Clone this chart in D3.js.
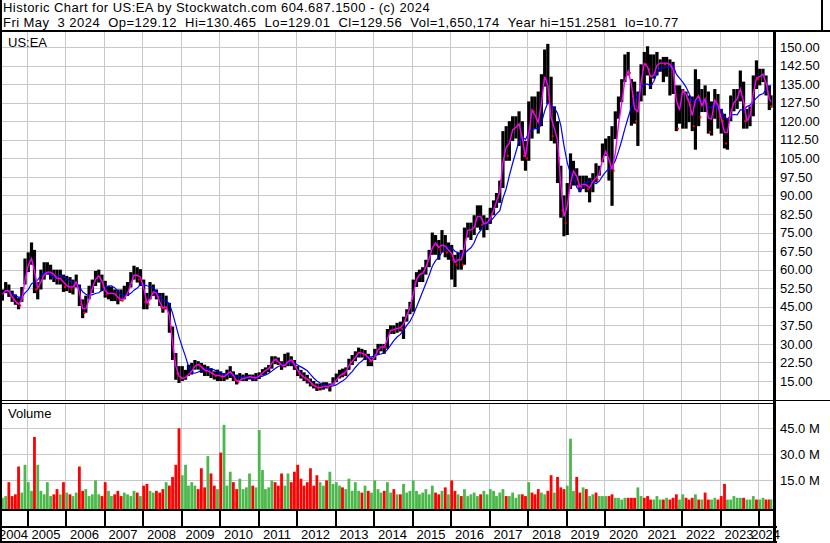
<!DOCTYPE html>
<html>
<head>
<meta charset="utf-8">
<script src="https://cdn.jsdelivr.net/npm/d3@7"></script>
<style>
body { margin: 0; background: #fff; }
text { font-family: "Liberation Sans", Arial, sans-serif; fill: #000; }
</style>
</head>
<body>
<div id="chart"></div>
<script>
// monthly bars, May 2004 .. May 2024 (one value per month)
var high = [
  52, 55, 54, 51.5, 50, 48.5, 53, 64.5,
  67, 71, 68, 55, 60, 63, 63, 62, 60, 60, 60, 58,
  57.5, 57, 56, 58, 54, 48, 49.5, 53.5, 56, 59.5, 60, 58,
  55.5, 53.5, 53, 52, 52, 52, 53.5, 55, 59, 61.6, 61, 60.2,
  56, 50.6, 55, 54, 52, 50.6, 50.6, 49.5, 46.6, 37, 26.3, 21,
  21, 19.5, 21.6, 22.3, 23.5, 23, 22.3, 21.6, 21, 20.2, 18.9, 19.6,
  18.9, 18.2, 19.6, 21, 18.9, 17.6, 18.2, 17.6, 18.2, 17.6, 17.6, 18.2,
  18.5, 19.8, 20.5, 21.5, 25, 25, 24.5, 23, 26, 26.5, 25, 23.5,
  21, 19.5, 18.5, 17.5, 16, 15, 14, 14, 14.5, 14.5, 14, 16.5,
  18, 19.5, 20, 20.5, 24, 25.5, 27, 28.5, 28, 27.5, 26, 24.5,
  28, 30, 30, 30, 36, 37.5, 37.5, 38.5, 39, 41, 44, 47,
  56, 59, 60, 61, 64, 68, 75, 74, 72, 76, 74, 71,
  70, 66, 67, 68, 77, 79, 79, 82, 86, 86, 82, 81,
  85, 88, 91, 96, 116, 118, 120, 122, 122, 124, 120, 112,
  128, 130, 130, 132, 139, 149, 151.26, 138, 126, 120, 102, 90,
  95, 107, 104, 101, 98, 98, 98, 97, 99, 103, 102, 111,
  113, 114, 118, 124, 130, 137, 147, 148, 137, 136, 132, 143,
  148, 150.3, 147, 147, 148, 145, 146, 146, 145, 144, 134.5, 134.5,
  133, 132, 130.4, 130, 141, 137, 133, 134.5, 132, 128, 133, 131,
  125, 123, 121, 130.4, 133, 133, 140.5, 136, 125, 126, 138.5, 144.6,
  141.2, 141.2, 138.5, 134.5, 130.47
];
var low = [
  47.5, 50.5, 49, 47, 45.8, 44, 47, 54,
  59, 62, 50.5, 48, 52, 56, 58, 56, 55, 54, 54, 51,
  51.3, 50.6, 50, 52.8, 45.3, 40.4, 42.6, 48, 50.6, 53.4, 54.8, 51.3,
  48.7, 48, 47.3, 47.3, 46, 47.3, 48, 49.4, 52.8, 56, 54.8, 53.4,
  44, 44, 48, 49.4, 48, 45.3, 42.6, 44, 34.5, 23.5, 15.5, 14.2,
  15, 15.5, 17, 17.6, 19.6, 19.6, 18.3, 17, 17, 16.2, 15.6, 15,
  15, 15, 15.6, 16.2, 15, 13.6, 15, 15, 15, 15.6, 15, 15,
  15.8, 17.2, 17.5, 18.5, 20, 21.8, 21.5, 19.5, 20.5, 21, 21, 19.5,
  17, 16, 15, 14, 12.8, 12, 11, 11.2, 11.5, 12, 10.77, 13.5,
  14.5, 16, 16.5, 17, 19.5, 21.5, 23, 24.5, 24.5, 23.5, 21, 21,
  23.5, 25.5, 27, 26, 28, 34, 34, 34.5, 35, 32, 39, 42,
  43, 53, 55, 55, 58, 61, 66, 66, 64, 67, 65, 64,
  56, 53, 60, 60, 62, 73, 72, 74, 77, 76, 73, 76,
  78.5, 82, 85, 87, 93, 104, 104, 112, 113, 110, 104, 100,
  104, 113, 117, 115, 118, 134, 127, 112, 111, 95, 81, 73.5,
  74, 92.6, 94, 94, 91.3, 92.6, 91.3, 87.2, 91.3, 95.3, 98, 103.4,
  106, 96, 85.8, 112.8, 121, 127.7, 135.8, 138.5, 118.2, 119, 110, 128,
  130.4, 138.5, 133, 137.2, 138.5, 140, 135.8, 138, 130.4, 131, 116, 119,
  117, 117, 119.6, 116, 108.5, 118, 123.7, 123.7, 115, 114.2, 121, 117,
  115, 109, 108.5, 120, 124, 125, 128, 117, 117, 118, 122, 133,
  134.5, 135.8, 130.4, 124.5, 125.5
];
var close = [
  50, 53, 50, 48, 46.5, 45.5, 50, 61.5,
  62, 67, 52, 53, 57, 59, 59, 59, 57, 56, 57, 53,
  54, 52, 54, 56, 46, 42.5, 46, 50, 55, 57, 58, 53,
  50, 50.5, 50.5, 50, 48, 47.5, 49, 52, 56, 59.5, 56, 58,
  47, 46, 50, 52, 49, 45, 44, 46, 37, 24, 18, 16,
  16, 17, 18, 20, 22, 21.5, 20, 19, 19, 18, 17, 17.5,
  16.5, 17, 18.5, 19, 15.5, 14.5, 16, 16, 16.5, 17, 16, 16.5,
  17.5, 19, 19.5, 20.5, 24, 23.6, 22, 21, 21.5, 24, 23, 20.5,
  18, 17, 16, 15.5, 13.5, 13, 12, 12.5, 13, 12.5, 13.5, 14.5,
  16, 18, 17.7, 19.5, 23, 23, 26, 27, 25.5, 26, 23, 23,
  26.5, 28.5, 29, 28.5, 35, 36, 35.5, 37, 36, 40, 43, 46,
  54, 58, 58, 59, 63, 66, 71.5, 70, 68, 72, 67, 69,
  64, 62, 66, 62, 76, 76, 76, 78, 85, 78, 79, 79,
  82, 86, 89, 94, 113, 106, 116, 117, 118, 120, 106, 105,
  125, 124, 121, 118, 136, 140, 129, 114, 120, 105, 84, 79,
  92, 98, 101.6, 94, 93, 96, 92.5, 93.6, 97.8, 96.4, 101, 107.5,
  108, 101, 100, 114, 123, 132, 141, 139.5, 130, 120, 127.7, 143.6,
  143, 141, 135, 142, 143, 144, 143, 144, 142, 140, 117, 132,
  132.7, 129, 126.5, 118, 139, 121.6, 131, 127, 115.7, 126, 131, 122,
  120, 111, 120, 127, 128, 130, 136, 120, 120.5, 124, 138, 137,
  139, 139, 132, 126, 129.56
];
// volume, millions of shares
var volume = [
  5, 6, 14, 6, 7, 23, 8, 24,
  14, 9, 40, 24, 9, 7, 14, 6, 7, 10, 7, 14,
  8, 7, 6, 8, 23, 9, 10, 6, 7, 15, 7, 6,
  14, 9, 6, 7, 9, 6, 8, 7, 6, 9, 8, 6,
  12, 13, 9, 8, 9, 8, 10, 14, 12, 17, 24, 45,
  18, 24, 12, 14, 12, 10, 22, 11, 29, 19, 12, 10,
  31, 47, 12, 20, 14, 10, 16, 10, 11, 19, 12, 11,
  44, 21, 10, 11, 15, 14, 12, 19, 12, 19, 14, 20,
  24, 16, 12, 14, 22, 12, 18, 14, 12, 15, 20, 13,
  14, 12, 11, 10, 16, 9, 14, 9, 8, 12, 9, 8,
  15, 10, 8, 9, 14, 8, 10, 7, 7, 13, 8, 9,
  15, 9, 7, 8, 10, 7, 12, 8, 7, 9, 11, 7,
  15, 9, 7, 6, 10, 6, 7, 8, 6, 7, 9, 7,
  10, 9, 6, 8, 10, 6, 6, 8, 5, 7, 7, 6,
  14, 8, 7, 10, 8, 7, 9, 18, 8, 17, 11, 10,
  12, 39, 9, 17, 8, 11, 10, 6, 7, 8, 6, 6,
  6, 6, 7, 5, 5, 4, 5, 5, 5, 5, 11, 6,
  5, 6, 4, 4, 6, 4, 4, 5, 4, 5, 7, 4,
  7, 5, 4, 5, 7, 4, 4, 8, 4, 4, 5, 4,
  6, 13, 4, 4, 6, 5, 5, 5, 4, 4, 6, 4,
  4, 5, 4, 4, 4
];
var priceTicks = [15, 22.5, 30, 37.5, 45, 52.5, 60, 67.5, 75, 82.5, 90, 97.5, 105, 112.5, 120, 127.5, 135, 142.5, 150];
var volumeTicks = [15, 30, 45];
var years = [2004, 2005, 2006, 2007, 2008, 2009, 2010, 2011, 2012, 2013, 2014, 2015, 2016, 2017, 2018, 2019, 2020, 2021, 2022, 2023, 2024];

var title1 = "Historic Chart for US:EA by Stockwatch.com 604.687.1500 - (c) 2024";
var title2 = "Fri May  3 2024  Op=129.12  Hi=130.465  Lo=129.01  Cl=129.56  Vol=1,650,174  Year hi=151.2581  lo=10.77";

var W = 830, H = 543;
var plotR = 773;
var priceTop = 31, priceBot = 400;
var volTop = 403, volBot = 509;

// month dates (mid month, last bar only has 3 days)
var dates = close.map(function(d, i) {
  return new Date(2004, 4 + i, i == close.length - 1 ? 1 : 15);
});

var x = d3.scaleTime()
  .domain([new Date(2004, 3, 22), new Date(2024, 4, 20)])
  .range([0, plotR]);
var y = d3.scaleLinear().domain([15, 150]).range([381, 47]);
var yv = d3.scaleLinear().domain([0, 45]).range([506.5, 428.3]);

function movingAvg(arr, n) {
  return arr.map(function(v, i) {
    return d3.mean(arr.slice(Math.max(0, i - n + 1), i + 1));
  });
}
var maShort = movingAvg(close, 2);
var maLong = movingAvg(close, 7);

var svg = d3.select("#chart").append("svg")
  .attr("width", W)
  .attr("height", H);

svg.append("rect").attr("width", W).attr("height", H).attr("fill", "#fff");

svg.append("defs").append("clipPath").attr("id", "clipPrice")
  .append("rect").attr("x", 0).attr("y", priceTop + 1).attr("width", plotR).attr("height", priceBot - priceTop - 1);

// header
svg.append("text").attr("x", 3).attr("y", 12.3).attr("font-size", 13)
  .attr("letter-spacing", 0.45).text(title1);
svg.append("text").attr("x", 3).attr("y", 26.8).attr("font-size", 13)
  .attr("letter-spacing", 0.45).text(title2.replace(/ /g, "\u00a0"));

// grid
var grid = svg.append("g").attr("stroke", "#c8c8c8").attr("stroke-width", 1).attr("shape-rendering", "crispEdges");
grid.selectAll(".hp").data(priceTicks).enter().append("line")
  .attr("x1", 0).attr("x2", plotR)
  .attr("y1", function(d) { return Math.round(y(d)) + 0.5; })
  .attr("y2", function(d) { return Math.round(y(d)) + 0.5; });
grid.selectAll(".hv").data(volumeTicks).enter().append("line")
  .attr("x1", 0).attr("x2", plotR)
  .attr("y1", function(d) { return Math.round(yv(d)) + 0.5; })
  .attr("y2", function(d) { return Math.round(yv(d)) + 0.5; });
var yearLines = years.slice(1);
grid.selectAll(".vp").data(yearLines).enter().append("line")
  .attr("x1", function(d) { return Math.round(x(new Date(d, 0, 1))) + 0.5; })
  .attr("x2", function(d) { return Math.round(x(new Date(d, 0, 1))) + 0.5; })
  .attr("y1", priceTop).attr("y2", priceBot);
grid.selectAll(".vv").data(yearLines).enter().append("line")
  .attr("x1", function(d) { return Math.round(x(new Date(d, 0, 1))) + 0.5; })
  .attr("x2", function(d) { return Math.round(x(new Date(d, 0, 1))) + 0.5; })
  .attr("y1", volTop).attr("y2", volBot);

// price bars
var price = svg.append("g").attr("clip-path", "url(#clipPrice)");
price.selectAll("rect.bar").data(close).enter().append("rect")
  .attr("class", "bar")
  .attr("x", function(d, i) { return x(dates[i]) - 1.6; })
  .attr("width", 3.2)
  .attr("y", function(d, i) { return y(high[i]); })
  .attr("height", function(d, i) { return y(low[i]) - y(high[i]); })
  .attr("fill", "#000");

// red close marks on down months
var downIdx = d3.range(1, close.length).filter(function(i) { return close[i] < close[i - 1]; });
price.selectAll("rect.cl").data(downIdx).enter().append("rect")
  .attr("class", "cl")
  .attr("x", function(i) { return x(dates[i]) + 0.6; })
  .attr("width", 2)
  .attr("y", function(i) { return y(close[i]) - 1; })
  .attr("height", 2)
  .attr("fill", "#ff0000");

var line = d3.line()
  .x(function(d, i) { return x(dates[i]); })
  .y(function(d) { return y(d); });
price.append("path").datum(maLong)
  .attr("d", line).attr("fill", "none").attr("stroke", "#0000ff").attr("stroke-width", 1.2);
price.append("path").datum(maShort)
  .attr("d", line).attr("fill", "none").attr("stroke", "#ff00ff").attr("stroke-width", 1.4);

// volume bars
svg.append("g").selectAll("rect").data(volume).enter().append("rect")
  .attr("x", function(d, i) { return x(dates[i]) - 1.4; })
  .attr("width", 2.8)
  .attr("y", function(d) { return yv(d); })
  .attr("height", function(d) { return volBot - yv(d); })
  .attr("fill", function(d, i) {
    if (i > 0 && close[i] < close[i - 1]) return "#ff0000";
    return "#4cb84c";
  });

// labels
svg.append("text").attr("x", 8).attr("y", 46.5).attr("font-size", 13).text("US:EA");
svg.append("text").attr("x", 8).attr("y", 417.5).attr("font-size", 13).text("Volume");

var priceAxis = d3.axisRight(y).tickValues(priceTicks).tickSize(0).tickPadding(7)
  .tickFormat(d3.format(".2f"));
svg.append("g").attr("transform", "translate(" + plotR + ",0)")
  .call(priceAxis)
  .call(function(g) { g.select(".domain").remove(); })
  .selectAll("text").attr("font-size", 13).attr("font-family", "Liberation Sans, Arial, sans-serif").attr("fill", "#000");

var volAxis = d3.axisRight(yv).tickValues(volumeTicks).tickSize(0).tickPadding(7)
  .tickFormat(function(d) { return d.toFixed(1) + " M"; });
svg.append("g").attr("transform", "translate(" + plotR + ",0)")
  .call(volAxis)
  .call(function(g) { g.select(".domain").remove(); })
  .selectAll("text").attr("font-size", 13).attr("font-family", "Liberation Sans, Arial, sans-serif").attr("fill", "#000");

// frame lines
var frame = svg.append("g").attr("stroke", "#000").attr("shape-rendering", "crispEdges");
frame.append("line").attr("x1", 0).attr("x2", W).attr("y1", 30.5).attr("y2", 30.5).attr("stroke-width", 2);
frame.append("line").attr("x1", 0.5).attr("x2", 0.5).attr("y1", 0).attr("y2", H).attr("stroke-width", 2);
frame.append("line").attr("x1", 0).attr("x2", W).attr("y1", 400.5).attr("y2", 400.5).attr("stroke-width", 1);
frame.append("line").attr("x1", 0).attr("x2", plotR).attr("y1", 403.5).attr("y2", 403.5).attr("stroke-width", 1);
frame.append("line").attr("x1", 0).attr("x2", plotR).attr("y1", 510).attr("y2", 510).attr("stroke-width", 2);
frame.append("line").attr("x1", 0).attr("x2", 777).attr("y1", 527).attr("y2", 527).attr("stroke-width", 2);
frame.append("line").attr("x1", 0).attr("x2", 777).attr("y1", 542).attr("y2", 542).attr("stroke-width", 2);
frame.append("line").attr("x1", 774).attr("x2", 774).attr("y1", 31).attr("y2", H).attr("stroke-width", 3);
frame.append("line").attr("x1", 822).attr("x2", 822).attr("y1", 0).attr("y2", 31).attr("stroke-width", 2);
frame.selectAll(".yr").data(yearLines).enter().append("line")
  .attr("x1", function(d) { return Math.round(x(new Date(d, 0, 1))) + 0.5; })
  .attr("x2", function(d) { return Math.round(x(new Date(d, 0, 1))) + 0.5; })
  .attr("y1", 510).attr("y2", 527).attr("stroke-width", 2);

// year labels, centred in the visible part of each year
svg.append("g").selectAll("text").data(years).enter().append("text")
  .attr("x", function(d) {
    var a = Math.max(x(new Date(d, 0, 1)), 0);
    var b = Math.min(x(new Date(d + 1, 0, 1)), plotR);
    return (a + b) / 2;
  })
  .attr("y", 538.5)
  .attr("font-size", 13)
  .attr("text-anchor", "middle")
  .text(function(d) { return d; });
</script>
</body>
</html>
